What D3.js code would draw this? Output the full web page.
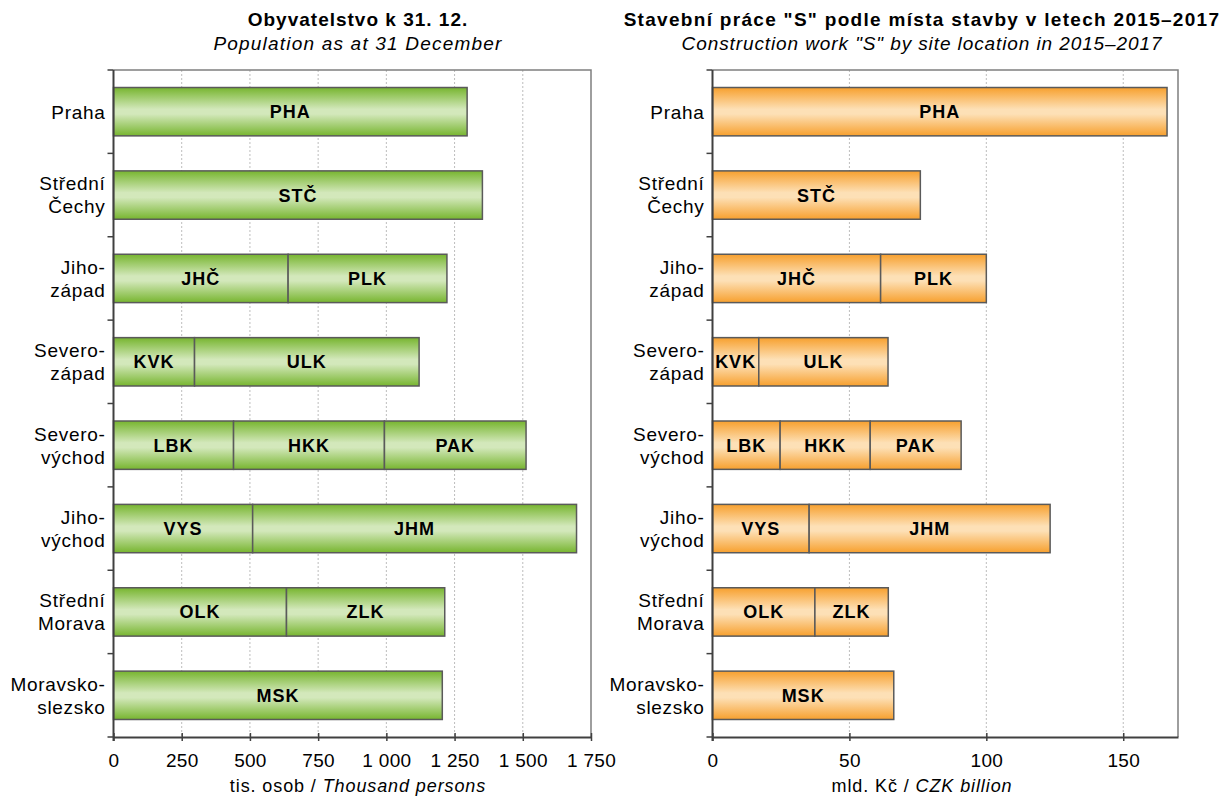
<!DOCTYPE html>
<html>
<head>
<meta charset="utf-8">
<script src="https://cdn.jsdelivr.net/npm/d3@7"></script>
<style>
  html, body { margin: 0; padding: 0; background: #fff; }
  svg { display: block; font-family: "Liberation Sans", Arial, sans-serif; }
</style>
</head>
<body>
<svg id="chart" width="1229" height="803"></svg>
<script>
// ---------- DATA ----------
const regions = ["Praha", "Střední Čechy", "Jihozápad", "Severozápad", "Severovýchod", "Jihovýchod", "Střední Morava", "Moravskoslezsko"];
const regionLabelLines = [["Praha"], ["Střední", "Čechy"], ["Jiho-", "západ"], ["Severo-", "západ"], ["Severo-", "východ"], ["Jiho-", "východ"], ["Střední", "Morava"], ["Moravsko-", "slezsko"]];
const krajCodes = ["PHA", "STČ", "JHČ", "PLK", "KVK", "ULK", "LBK", "HKK", "PAK", "VYS", "JHM", "OLK", "ZLK", "MSK"];
const krajRegion = ["Praha", "Střední Čechy", "Jihozápad", "Jihozápad", "Severozápad", "Severozápad", "Severovýchod", "Severovýchod", "Severovýchod", "Jihovýchod", "Jihovýchod", "Střední Morava", "Střední Morava", "Moravskoslezsko"];
const population = [1296, 1352, 640, 582, 297, 823, 440, 553, 519, 510, 1187, 634, 580, 1205];       // tis. osob
const construction = [166, 75.9, 61.4, 38.6, 16.9, 47.2, 24.7, 32.9, 33.2, 35.3, 88.0, 37.4, 26.8, 66.2]; // mld. Kč
const popTicks = [0, 250, 500, 750, 1000, 1250, 1500, 1750];
const conTicks = [0, 50, 100, 150];

const svg = d3.select("#chart");
const defs = svg.append("defs");

function gradient(id, edge, mid) {
  const g = defs.append("linearGradient").attr("id", id)
    .attr("x1", 0).attr("y1", 0).attr("x2", 0).attr("y2", 1);
  [[0, edge], [0.45, mid], [0.55, mid], [1, edge]].forEach(([o, c]) =>
    g.append("stop").attr("offset", o).attr("stop-color", c));
}
gradient("gGreen", "#77b52f", "#d3e8bb");
gradient("gOrange", "#f7a02e", "#fde0b6");

const locale = d3.formatLocale({decimal: ",", thousands: " ", grouping: [3], currency: ["", ""]});
const fmt = locale.format(",");

function stack(values) {
  const acc = {};
  return krajCodes.map((code, i) => {
    const r = krajRegion[i];
    const x0 = acc[r] || 0;
    acc[r] = x0 + values[i];
    return {code, region: r, x0, x1: acc[r]};
  });
}

function drawChart(opt) {
  const {left, right, top, bottom, max, ticks, values, fill, title, subtitle, axisA, axisB, cx} = opt;
  const g = svg.append("g");
  const x = d3.scaleLinear().domain([0, max]).range([left, right]);
  const y = d3.scaleBand().domain(regions).range([top, bottom]).paddingInner(0.42).paddingOuter(0.21);

  // gridlines
  g.append("g").selectAll("line").data(ticks.filter(t => t > 0 && t < max)).join("line")
    .attr("x1", d => x(d)).attr("x2", d => x(d)).attr("y1", top).attr("y2", bottom)
    .attr("stroke", "#bdbdbd").attr("stroke-width", 1).attr("stroke-dasharray", "2,2");

  // frame top/right
  g.append("path").attr("d", `M${left},${top}H${right}V${bottom}`)
    .attr("fill", "none").attr("stroke", "#7f7f7f").attr("stroke-width", 1.5);

  // bars
  const data = stack(values);
  g.append("g").selectAll("rect").data(data).join("rect")
    .attr("x", d => x(d.x0)).attr("width", d => x(d.x1) - x(d.x0))
    .attr("y", d => y(d.region)).attr("height", y.bandwidth())
    .attr("fill", fill).attr("stroke", "#5a5a5a").attr("stroke-width", 1.5);

  g.append("g").selectAll("text").data(data).join("text")
    .attr("x", d => (x(d.x0) + x(d.x1)) / 2)
    .attr("y", d => y(d.region) + y.bandwidth() / 2)
    .attr("dy", "0.36em").attr("text-anchor", "middle")
    .attr("font-size", 18).attr("font-weight", "bold").attr("letter-spacing", 1).attr("fill", "#000")
    .text(d => d.code);

  // y axis
  const step = y.step();
  const yTicks = d3.range(regions.length + 1).map(i => top + i * step);
  g.append("line").attr("x1", left).attr("x2", left).attr("y1", top).attr("y2", bottom + 4)
    .attr("stroke", "#404040").attr("stroke-width", 2);
  g.append("g").selectAll("line").data(yTicks).join("line")
    .attr("x1", left - 6).attr("x2", left).attr("y1", d => d).attr("y2", d => d)
    .attr("stroke", "#404040").attr("stroke-width", 1.5);

  const lab = g.append("g").selectAll("text").data(regions).join("text")
    .attr("text-anchor", "end").attr("font-size", 19).attr("letter-spacing", 0.7).attr("fill", "#000");
  lab.each(function(r, i) {
    const lines = regionLabelLines[i];
    const cy = y(r) + y.bandwidth() / 2;
    const lh = 23;
    lines.forEach((t, j) => {
      d3.select(this).append("tspan").attr("x", left - 8)
        .attr("y", cy + (j - (lines.length - 1) / 2) * lh).attr("dy", "0.36em").text(t);
    });
  });

  // x axis
  const xa = g.append("g").attr("transform", `translate(0,${bottom})`)
    .call(d3.axisBottom(x).tickValues(ticks).tickFormat(fmt).tickSizeInner(4).tickSizeOuter(0).tickPadding(13));
  xa.select(".domain").attr("stroke", "#404040").attr("stroke-width", 2);
  xa.selectAll(".tick line").attr("y1", -4).attr("y2", 4).attr("stroke", "#404040").attr("stroke-width", 1.5);
  xa.selectAll(".tick text").attr("font-size", 19).attr("letter-spacing", 0.3).attr("fill", "#000")
    .attr("font-family", "Liberation Sans, Arial, sans-serif");

  // axis title
  const at = g.append("text").attr("x", cx).attr("y", 792).attr("text-anchor", "middle")
    .attr("font-size", 18).attr("letter-spacing", 0.9).attr("fill", "#000");
  at.append("tspan").text(axisA);
  at.append("tspan").attr("font-style", "italic").text(axisB);

  // titles
  g.append("text").attr("x", cx).attr("y", 26).attr("text-anchor", "middle")
    .attr("font-size", 19).attr("font-weight", "bold").attr("letter-spacing", opt.titleLS).text(title);
  g.append("text").attr("x", cx).attr("y", 50).attr("text-anchor", "middle")
    .attr("font-size", 19).attr("font-style", "italic").attr("letter-spacing", opt.subLS).text(subtitle);
}

drawChart({
  left: 113.5, right: 591, top: 70, bottom: 737, max: 1750, ticks: popTicks, values: population,
  fill: "url(#gGreen)", title: "Obyvatelstvo k 31. 12.", subtitle: "Population as at 31 December",
  axisA: "tis. osob / ", axisB: "Thousand persons", cx: 358, titleLS: 1, subLS: 1.2
});
drawChart({
  left: 712.5, right: 1178, top: 70, bottom: 737, max: 170, ticks: conTicks, values: construction,
  fill: "url(#gOrange)", title: "Stavební práce \"S\" podle místa stavby v letech 2015–2017",
  subtitle: "Construction work \"S\" by site location in 2015–2017",
  axisA: "mld. Kč / ", axisB: "CZK billion", cx: 922, titleLS: 1.3, subLS: 0.9
});
</script>
</body>
</html>
